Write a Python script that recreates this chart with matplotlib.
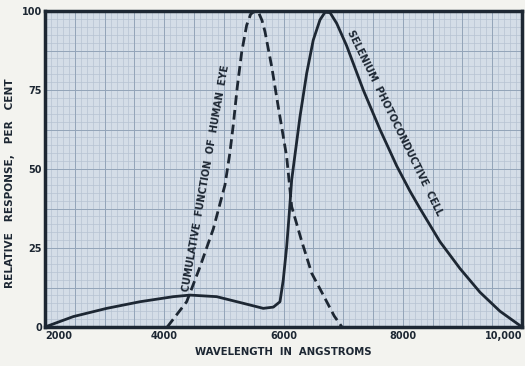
import matplotlib
matplotlib.use("Agg")
import matplotlib.pyplot as plt
import numpy as np

# Data
eye_wl = [4050, 4376, 4599, 4822, 5019, 5100, 5158, 5225, 5299, 5382, 5450, 5520, 5580,
          5640, 5689, 5802, 5912, 6053, 6137, 6300, 6473, 6667, 6850, 6980]
eye_resp = [0, 8.0, 19.0, 31.0, 45.0, 55.0, 64.0, 76.0, 87.0, 95.5, 99.0, 100, 99.6,
            97.0, 93.5, 82.4, 69.7, 53.9, 38.1, 27.5, 17.0, 10.1, 3.5, 0]

sel_wl = [2000, 2475, 3035, 3593, 4152, 4432, 4879, 5325, 5661, 5830, 5941, 5996,
          6053, 6097, 6137, 6276, 6389, 6499, 6612, 6696, 6780, 6892, 7059, 7338,
          7618, 7898, 8121, 8289, 8624, 8960, 9295, 9630, 10000]
sel_resp = [0, 3.3, 5.9, 8.0, 9.6, 10.1, 9.6, 7.5, 5.9, 6.3, 8.0, 14.9,
            25.4, 36.0, 46.5, 66.5, 80.3, 90.8, 97.2, 99.6, 99.5, 96.1, 89.0, 75.0,
            62.5, 51.0, 43.0, 37.5, 27.0, 18.5, 11.0, 5.0, 0]

x_ticks = [2000, 4000, 6000, 8000, 10000]
x_tick_labels = ["2000", "4000", "6000", "8000", "10,000"]
y_ticks = [0, 25, 50, 75, 100]
y_tick_labels = ["0", "25", "50", "75", "100"]

ink = "#1d2733"
fig = plt.figure(figsize=(5.25, 3.66), dpi=100)
fig.patch.set_facecolor("#f3f3ef")
ax = fig.add_axes([45/525, 39/366, 477/525, 316/366])
ax.set_facecolor("#d4dde7")

ax.set_xlim(2000, 10000)
ax.set_ylim(0, 100)

# grid paper
for xv in np.arange(2000, 10001, 100):
    ax.axvline(xv, color="#b6c3d2", lw=0.5, zorder=0)
for yv in np.arange(0, 100.1, 2.5):
    ax.axhline(yv, color="#b6c3d2", lw=0.5, zorder=0)
for xv in np.arange(2000, 10001, 500):
    ax.axvline(xv, color="#93a4b9", lw=0.7, zorder=0)
for yv in np.arange(0, 100.1, 12.5):
    ax.axhline(yv, color="#93a4b9", lw=0.7, zorder=0)

ax.plot(sel_wl, sel_resp, color=ink, lw=2.0, solid_capstyle="round",
        solid_joinstyle="round", zorder=3)
ax.plot(eye_wl, eye_resp, color=ink, lw=2.0, dashes=(3.5, 1.8), zorder=3)

ax.text(4700, 47, "CUMULATIVE  FUNCTION  OF  HUMAN  EYE", rotation=80,
        ha="center", va="center", fontsize=7, fontweight="bold", color=ink,
        rotation_mode="anchor", zorder=4)
ax.text(7870, 64.5, "SELENIUM  PHOTOCONDUCTIVE  CELL", rotation=-64,
        ha="center", va="center", fontsize=7, fontweight="bold", color=ink,
        rotation_mode="anchor", zorder=4)

for s in ax.spines.values():
    s.set_linewidth(2.5)
    s.set_color(ink)

ax.set_xticks(x_ticks)
ax.set_xticklabels(x_tick_labels)
ax.set_yticks(y_ticks)
ax.set_yticklabels(y_tick_labels)
ax.tick_params(length=0, labelsize=7, colors=ink, pad=3)
ax.tick_params(axis="y", pad=2)
for lab in ax.get_xticklabels():
    lab.set_fontweight("bold")
for lab in ax.get_yticklabels():
    lab.set_fontweight("bold")
xl = ax.get_xticklabels()
xl[0].set_ha("left")
xl[-1].set_ha("right")

fig.text(283/525, 1 - 352/366, "WAVELENGTH  IN  ANGSTROMS", ha="center", va="center",
         fontsize=7.3, fontweight="bold", color=ink)
fig.text(10/525, 1 - 183/366, "RELATIVE   RESPONSE,   PER   CENT", ha="center", va="center",
         rotation=90, fontsize=7.6, fontweight="bold", color=ink)

fig.savefig("out.png", dpi=100, facecolor=fig.get_facecolor())
